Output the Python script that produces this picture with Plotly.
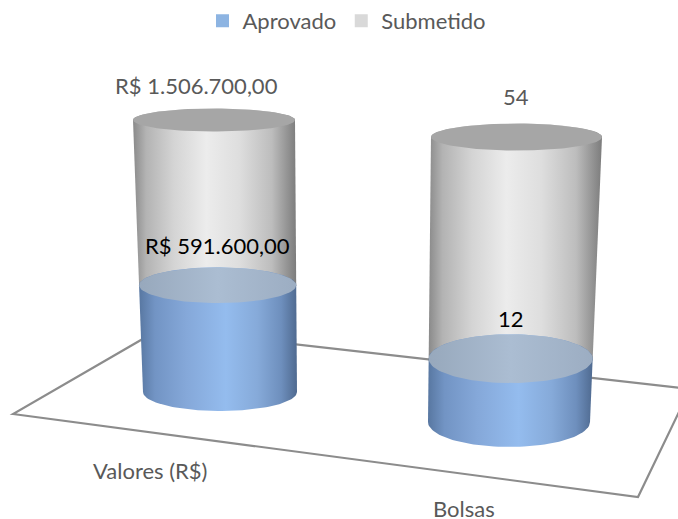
import numpy as np
import plotly.graph_objects as go

# ---------------- data ----------------
categories = ["Valores (R$)", "Bolsas"]
submetido = [1506700.00, 54]
aprovado = [591600.00, 12]
is_currency = [True, False]
series_names = ["Aprovado", "Submetido"]

# ---------------- style / layout ----------------
W, H = 678, 519
FONT = "Lato"
FS = 22
TXT_GRAY = "#595959"
BLUE_LEG = "#8db4e2"
GRAY_LEG = "#d9d9d9"

# per-category projected geometry of the cylinder (bottom at 0 %, top at 100 %)
geom = [
    dict(b=(220.0, 392.0, 77.0, 19.0), t=(214.0, 120.0, 81.0, 11.5)),
    dict(b=(509.0, 422.0, 81.0, 25.0), t=(516.5, 137.0, 85.5, 13.5)),
]
top_label_dx = [-18, -1]
top_label_dy = [-23, -27]
in_label_dy = [-22, -16]
cat_label_pos = [(150, 470), (464, 508)]
floor = [(13, 414), (638, 497), (690, 389), (160, 329)]

gray_body_cs = [[0, "#8a8a8a"], [0.08, "#b3b3b3"], [0.25, "#d4d4d4"], [0.45, "#ececec"],
                [0.65, "#dedede"], [0.85, "#bdbdbd"], [1, "#7c7c7c"]]
blue_body_cs = [[0, "#5877a1"], [0.1, "#7294c4"], [0.3, "#85a8d9"], [0.55, "#94bcee"],
                [0.75, "#86aad9"], [0.9, "#6e8fbd"], [1, "#4f6a90"]]
blue_top_cs = [[0, "#97a8bc"], [0.5, "#abbdd2"], [1, "#9cadc2"]]
gray_top = "#a6a6a6"


def fmt(v, cur):
    if cur:
        s = f"{v:,.2f}".replace(",", "X").replace(".", ",").replace("X", ".")
        return "R$ " + s
    return f"{v:g}"


def ring(g, f):
    bx, by, brx, bry = g["b"]
    tx, ty, trx, trY = g["t"]
    cx = bx + (tx - bx) * f
    cy = by + (ty - by) * f
    rx = brx + (trx - brx) * f
    ry = bry + (trY - bry) * f * f
    return cx, cy, rx, ry


def body(g, f0, f1, n=60):
    c0 = ring(g, f0)
    c1 = ring(g, f1)
    a_up = np.linspace(np.pi, 2 * np.pi, n)
    a_lo = np.linspace(0, np.pi, n)
    xs = list(c1[0] + c1[2] * np.cos(a_up)) + list(c0[0] + c0[2] * np.cos(a_lo))
    ys = list(c1[1] + c1[3] * np.sin(a_up)) + list(c0[1] + c0[3] * np.sin(a_lo))
    xs.append(xs[0]); ys.append(ys[0])
    return xs, ys


def ellipse(g, f, n=120):
    cx, cy, rx, ry = ring(g, f)
    a = np.linspace(0, 2 * np.pi, n)
    return list(cx + rx * np.cos(a)), list(cy + ry * np.sin(a)), (cx, cy, rx, ry)


fig = go.Figure()

annotations = []
for i, cat in enumerate(categories):
    g = geom[i]
    fa = aprovado[i] / submetido[i]
    fs = submetido[i] / submetido[i]
    xs, ys = body(g, fa, fs)
    fig.add_trace(go.Scatter(x=xs, y=ys, mode="lines", fill="toself", line=dict(width=0),
                             fillgradient=dict(type="horizontal", colorscale=gray_body_cs),
                             hoverinfo="skip", showlegend=False))
    xs, ys, top = ellipse(g, fs)
    fig.add_trace(go.Scatter(x=xs, y=ys, mode="lines", fill="toself", line=dict(width=0),
                             fillcolor=gray_top, hoverinfo="skip", showlegend=False))
    xs, ys = body(g, 0.0, fa)
    fig.add_trace(go.Scatter(x=xs, y=ys, mode="lines", fill="toself", line=dict(width=0),
                             fillgradient=dict(type="horizontal", colorscale=blue_body_cs),
                             hoverinfo="skip", showlegend=False))
    xs, ys, atop = ellipse(g, fa)
    fig.add_trace(go.Scatter(x=xs, y=ys, mode="lines", fill="toself", line=dict(width=0),
                             fillgradient=dict(type="horizontal", colorscale=blue_top_cs),
                             hoverinfo="skip", showlegend=False))
    annotations.append(dict(x=top[0] + top_label_dx[i], y=top[1] - top[3] + top_label_dy[i],
                            text=fmt(submetido[i], is_currency[i]),
                            showarrow=False, font=dict(family=FONT, size=FS, color=TXT_GRAY),
                            xref="x", yref="y"))
    annotations.append(dict(x=atop[0], y=atop[1] - atop[3] + in_label_dy[i],
                            text=fmt(aprovado[i], is_currency[i]),
                            showarrow=False, font=dict(family=FONT, size=FS, color="#000000"),
                            xref="x", yref="y"))
    annotations.append(dict(x=cat_label_pos[i][0], y=cat_label_pos[i][1], text=cat,
                            showarrow=False, font=dict(family=FONT, size=FS, color=TXT_GRAY),
                            xref="x", yref="y"))

fig.add_trace(go.Scatter(x=[None], y=[None], mode="markers", name=series_names[0],
                         marker=dict(symbol="square", size=13, color=BLUE_LEG)))
fig.add_trace(go.Scatter(x=[None], y=[None], mode="markers", name=series_names[1],
                         marker=dict(symbol="square", size=13, color=GRAY_LEG)))

path = "M " + " L ".join(f"{x},{y}" for x, y in floor) + " Z"
fig.update_layout(
    width=W, height=H,
    margin=dict(l=0, r=0, t=0, b=0),
    paper_bgcolor="white", plot_bgcolor="white",
    xaxis=dict(range=[0, W], visible=False, fixedrange=True),
    yaxis=dict(range=[H, 0], visible=False, fixedrange=True),
    shapes=[dict(type="path", path=path, xref="x", yref="y", layer="below",
                 line=dict(color="#8c8c8c", width=2.2), fillcolor="rgba(0,0,0,0)")],
    annotations=annotations,
    showlegend=True,
    legend=dict(orientation="h", x=347 / W, xanchor="center", y=1, yanchor="top",
                font=dict(family=FONT, size=FS, color=TXT_GRAY), itemwidth=30,
                bgcolor="rgba(0,0,0,0)", traceorder="normal"),
)

fig.write_html("out.html", config={"displayModeBar": False},
               post_script="document.body.style.margin='0';")
